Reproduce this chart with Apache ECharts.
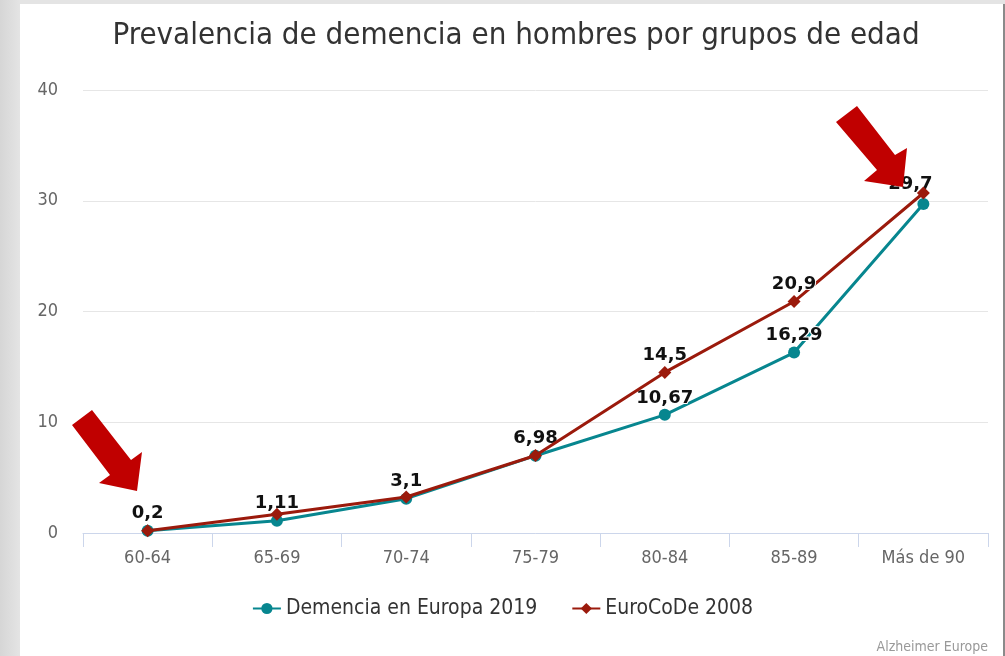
<!DOCTYPE html>
<html>
<head>
<meta charset="utf-8">
<script src="https://cdn.jsdelivr.net/npm/echarts@6/dist/echarts.min.js"></script>
<style>
  html, body { margin: 0; padding: 0; }
  body {
    width: 1005px; height: 656px; overflow: hidden; position: relative;
    background: linear-gradient(to right, #d6d6d6, #e4e4e4 20px);
  }
  /* marco blanco del gráfico */
  .panel {
    position: absolute; left: 20px; top: 4px; width: 983px; height: 652px;
    background: #fff; border-right: 2px solid #8a8a8a;
  }
  #chart { position: absolute; left: 0; top: 0; width: 1005px; height: 656px; }
</style>
</head>
<body>
<div class="panel"></div>
<div id="chart"></div>
<script>
// grupos de edad
var grupos = ['60-64', '65-69', '70-74', '75-79', '80-84', '85-89', 'Más de 90'];
// prevalencia (%) en hombres
var europa2019 = [0.2, 1.11, 3.1, 6.98, 10.67, 16.29, 29.7];
var eurocode2008 = [0.2, 1.7, 3.25, 7.0, 14.5, 20.9, 30.7];
// qué puntos de EuroCoDe llevan etiqueta
var etiquetasEurocode = [4, 5];

var teal = '#07868f';
var rojo = '#9b1a0c';
var flecha = '#c00000';

function coma(v) { return String(v).replace('.', ','); }

var etiqueta = {
  position: 'top', distance: 2,
  fontFamily: 'DejaVu Sans', fontWeight: 'bold', fontSize: 18, color: '#111',
  textBorderColor: '#fff', textBorderWidth: 2,
  formatter: function (p) { return coma(p.value); }
};

var myChart = echarts.init(document.getElementById('chart'));
myChart.setOption({
  backgroundColor: 'transparent',
  animation: false,
  title: {
    text: 'Prevalencia de demencia en hombres por grupos de edad',
    left: 511, top: 15, textAlign: 'center',
    textStyle: { fontFamily: 'DejaVu Sans Condensed', fontWeight: 'normal', fontSize: 31, color: '#333' }
  },
  legend: {
    bottom: 32, left: 'center',
    itemWidth: 28, itemHeight: 14, itemGap: 34,
    textStyle: { fontFamily: 'DejaVu Sans Condensed', fontSize: 21, color: '#333' },
    data: ['Demencia en Europa 2019', 'EuroCoDe 2008']
  },
  grid: { left: 83, right: 17, top: 90, bottom: 123 },
  xAxis: {
    type: 'category',
    data: grupos,
    boundaryGap: true,
    axisLine: { lineStyle: { color: '#ccd6eb', width: 1 } },
    axisTick: { show: true, length: 14, lineStyle: { color: '#ccd6eb' } },
    axisLabel: { margin: 16, fontFamily: 'DejaVu Sans Condensed', fontSize: 18, color: '#666' }
  },
  yAxis: {
    type: 'value', min: 0, max: 40, interval: 10,
    splitLine: { lineStyle: { color: '#e6e6e6' } },
    axisLine: { show: false }, axisTick: { show: false },
    axisLabel: { margin: 25, fontFamily: 'DejaVu Sans Condensed', fontSize: 18, color: '#666' }
  },
  series: [{
    name: 'Demencia en Europa 2019',
    type: 'line',
    data: europa2019.map(function (v, i) {
      // la última etiqueta va un poco a la izquierda, como en el original
      return i === europa2019.length - 1 ? { value: v, label: { offset: [-13, -3] } } : v;
    }),
    color: teal,
    symbol: 'circle', symbolSize: 12,
    lineStyle: { width: 3 },
    z: 2,
    label: Object.assign({ show: true }, etiqueta)
  }, {
    name: 'EuroCoDe 2008',
    type: 'line',
    data: eurocode2008.map(function (v, i) {
      return { value: v, label: { show: etiquetasEurocode.indexOf(i) >= 0 } };
    }),
    color: rojo,
    symbol: 'diamond', symbolSize: 13,
    lineStyle: { width: 3 },
    z: 3,
    label: Object.assign({ show: false }, etiqueta)
  }],
  graphic: [{
    type: 'polygon', z: 100,
    shape: { points: [[72, 425], [92, 410], [131, 460], [142, 452], [137, 491], [99, 483], [110, 475]] },
    style: { fill: flecha }
  }, {
    type: 'polygon', z: 100,
    shape: { points: [[836, 122], [857, 106], [895, 155], [907, 148], [903, 187], [864, 181], [877, 170]] },
    style: { fill: flecha }
  }, {
    type: 'text', right: 17, bottom: 2,
    style: { text: 'Alzheimer Europe', fontFamily: 'DejaVu Sans Condensed', fontSize: 14, fill: '#999' }
  }]
});
</script>
</body>
</html>
